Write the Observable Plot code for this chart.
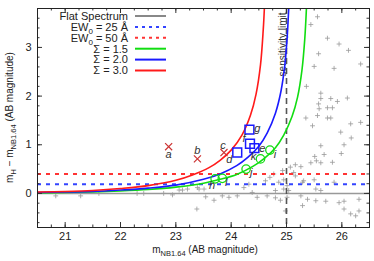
<!DOCTYPE html>
<html>
<head>
<meta charset="utf-8">
<script src="https://cdn.jsdelivr.net/npm/d3@7"></script>
<script src="https://cdn.jsdelivr.net/npm/@observablehq/plot@0.6"></script>
<style>
  html, body { margin: 0; padding: 0; background: #fff; }
  #chart { width: 374px; height: 261px; }
</style>
</head>
<body>
<div id="chart"></div>
<script>
// ---------- data ----------
const xTicks = [21, 22, 23, 24, 25, 26];
const yTicks = [0, 1, 2, 3];
const xDomain = [20.5, 26.5];
const yDomain = [-0.7, 3.8];

const flatLevel = 0;
const ewLabels = ["EW0 = 25 Å", "EW0 = 50 Å"];
const ewLevels = [0.19, 0.40];
const sensitivityLimit = 25.0;
const sensitivityText = "sensitivity limit";

const sigmaLabels = ["Σ = 1.5", "Σ = 2.0", "Σ = 3.0"];
const sigma15 = [[20.5,0.01],[21,0.02],[21.5,0.03],[22,0.05],[22.5,0.08],[23,0.13],[23.5,0.21],[23.8,0.29],[24.1,0.39],[24.4,0.56],[24.6,0.72],[24.8,0.94],[24.95,1.20],[25.1,1.58],[25.2,1.98],[25.28,2.54],[25.33,3.17],[25.36,3.8]];
const sigma20 = [[20.5,0.02],[21,0.03],[21.5,0.04],[22,0.07],[22.5,0.11],[23,0.17],[23.5,0.29],[23.8,0.40],[24.1,0.57],[24.3,0.74],[24.5,0.97],[24.65,1.24],[24.8,1.65],[24.9,2.10],[24.97,2.64],[25.01,3.17],[25.04,3.8]];
const sigma30 = [[20.5,0.03],[21,0.04],[21.5,0.06],[22,0.10],[22.5,0.16],[23,0.27],[23.3,0.38],[23.6,0.53],[23.8,0.68],[24.0,0.89],[24.2,1.21],[24.35,1.61],[24.45,2.04],[24.53,2.64],[24.58,3.37],[24.60,3.8]];

// labelled objects
const crossNames = ["a", "b", "c"];
const crossX = [22.87, 23.39, 23.87];
const crossY = [0.96, 0.71, 0.84];
const squareNames = ["d", "e", "f", "g"];
const squareX = [24.11, 24.42, 24.34, 24.33];
const squareY = [0.84, 0.93, 1.02, 1.31];
const circleNames = ["h", "i", "j", "k", "l"];
const circleX = [23.71, 24.70, 24.27, 24.53, 23.84];
const circleY = [0.30, 0.89, 0.50, 0.71, 0.31];

// field sources (grey crosses)
const field = [
  [25.56,3.63],[25.44,3.47],[25.74,3.19],[25.95,3.07],[26.12,2.94],[25.58,2.87],[26.34,2.66],[25.50,2.61],[25.86,2.57],[25.36,2.20],
  [25.62,2.06],[25.62,1.95],[25.80,1.95],[25.92,1.89],[26.10,1.96],[25.58,1.84],[25.59,1.74],[25.74,1.76],[25.83,1.76],[25.56,1.60],
  [25.74,1.55],[25.80,1.55],[25.35,1.55],[26.16,1.43],[26.34,1.46],[25.47,1.39],
  [25.98,1.26],[26.17,1.14],[25.62,0.98],[26.04,1.00],[25.68,0.80],[25.51,0.76],[25.54,0.67],[25.44,0.63],[25.62,0.63],[25.83,0.64],
  [25.99,0.82],[25.07,0.54],[25.16,0.59],[25.26,0.55],[25.31,0.26],[25.29,0.23],[25.50,0.28],[25.86,0.23],[25.01,0.16],[24.95,0.09],
  [25.04,0.06],[25.26,-0.05],[25.38,-0.12],[25.53,-0.15],[25.71,-0.16],[25.95,-0.19],[26.04,-0.16],[26.31,-0.12],[26.04,-0.32],[26.16,-0.42],
  [26.31,-0.36],[26.25,-0.46],[25.29,-0.25],[24.98,-0.36],[25.01,-0.08],[25.53,0.09],[25.62,0.06],[25.16,0.36],[25.13,0.43],
  [24.93,0.47],[24.77,0.40],[24.70,0.33],[24.62,0.26],[24.86,0.23],[24.95,0.28],[24.32,0.19],[24.23,0.12],[24.38,0.02],[24.11,-0.05],
  [23.96,-0.08],[23.84,-0.05],[23.69,-0.14],[23.54,-0.07],[23.38,-0.32],[24.47,-0.08],[24.65,-0.05],[24.80,-0.09],[24.89,-0.14],[24.80,0.06],
  [20.83,-0.05],[21.28,-0.05],[21.61,0.00],[22.30,0.00],[22.42,0.00],[22.78,0.00],[22.94,-0.03],[23.06,0.07],[23.12,0.07],[23.21,0.09],
  [23.39,0.12],[23.42,0.09],[23.51,0.09]
];

// ---------- layout / style ----------
const W = 374, H = 261;
const mL = 37, mR = 5, mT = 8, mB = 34;
const innerW = W - mL - mR, innerH = H - mT - mB;
const RED = "#ff1a1a", BLUE = "#1a1aff", GREEN = "#11dd11";
const FONT = "'Liberation Sans', Arial, Helvetica, sans-serif";

const xMinor = d3.range(20.5, 26.501, 0.25);
const yMinor = d3.range(-0.6, 3.801, 0.2);

const crosses = crossNames.map((n, i) => ({n, x: crossX[i], y: crossY[i]}));
const squares = squareNames.map((n, i) => ({n, x: squareX[i], y: squareY[i]}));
const circles = circleNames.map((n, i) => ({n, x: circleX[i], y: circleY[i]}));

// label offsets (px) relative to each marker
const labelOffset = {
  a: [0, 8], b: [0, -8], c: [-1, -7],
  d: [-8, 7], e: [8, 0], f: [-6, -5], g: [8, -1],
  h: [-3, 7], i: [5, 4], j: [5, 3], k: [-7, -2], l: [4, 4]
};

const labelMarks = [...crosses, ...squares, ...circles].map(d =>
  Plot.text([d], {x: "x", y: "y", text: "n", dx: labelOffset[d.n][0], dy: labelOffset[d.n][1],
    fontStyle: "italic", fontSize: 11, fill: "#333"}));

const tick = (len) => [
  Plot.tickX(xMinor, {x: d => d, insetTop: innerH - len / 2, stroke: "#333"}),
  Plot.tickX(xMinor, {x: d => d, insetBottom: innerH - len / 2, stroke: "#333"}),
  Plot.tickY(yMinor, {y: d => d, insetRight: innerW - len / 2, stroke: "#333"}),
  Plot.tickY(yMinor, {y: d => d, insetLeft: innerW - len / 2, stroke: "#333"}),
  Plot.tickX(xTicks, {x: d => d, insetTop: innerH - len, stroke: "#333"}),
  Plot.tickX(xTicks, {x: d => d, insetBottom: innerH - len, stroke: "#333"}),
  Plot.tickY(yTicks, {y: d => d, insetRight: innerW - len, stroke: "#333"}),
  Plot.tickY(yTicks, {y: d => d, insetLeft: innerW - len, stroke: "#333"})
];

const plot = Plot.plot({
  width: W, height: H,
  marginLeft: mL, marginRight: mR, marginTop: mT, marginBottom: mB,
  style: {fontFamily: FONT, fontSize: "11px", background: "#fff"},
  x: {domain: xDomain},
  y: {domain: yDomain},
  marks: [
    Plot.dot(field, {x: d => d[0], y: d => d[1], symbol: "plus", r: 1.7, stroke: "#999", strokeWidth: 0.8}),
    Plot.ruleY([flatLevel], {stroke: "#999", strokeWidth: 1.5}),
    Plot.ruleY([ewLevels[0]], {stroke: "#3344ff", strokeWidth: 2, strokeDasharray: "4,5"}),
    Plot.ruleY([ewLevels[1]], {stroke: "#ff3333", strokeWidth: 2, strokeDasharray: "4,5"}),
    Plot.ruleX([sensitivityLimit], {stroke: "#555", strokeWidth: 1.6, strokeDasharray: "6,4"}),
    Plot.text([sensitivityText], {x: () => sensitivityLimit, text: d => d, frameAnchor: "top", rotate: -90,
      textAnchor: "end", dx: -8, dy: 4, fontSize: 10, fill: "#333"}),
    Plot.line(sigma15, {x: d => d[0], y: d => d[1], stroke: GREEN, strokeWidth: 1.6, curve: "catmull-rom", clip: true}),
    Plot.line(sigma20, {x: d => d[0], y: d => d[1], stroke: BLUE, strokeWidth: 1.6, curve: "catmull-rom", clip: true}),
    Plot.line(sigma30, {x: d => d[0], y: d => d[1], stroke: RED, strokeWidth: 1.6, curve: "catmull-rom", clip: true}),
    Plot.dot(crosses, {x: "x", y: "y", symbol: "times", r: 3.3, stroke: "#cc3333", strokeWidth: 1.2}),
    Plot.dot(squares, {x: "x", y: "y", symbol: "square", r: 5, stroke: BLUE, strokeWidth: 1.5}),
    Plot.dot(circles, {x: "x", y: "y", symbol: "circle", r: 4.2, stroke: GREEN, strokeWidth: 1.3}),
    ...labelMarks,
    ...tick(5),
    Plot.frame({stroke: "#222"}),
    Plot.axisX(xTicks, {tickSize: 0, tickPadding: 5, label: null, fontSize: 11, fill: "#222"}),
    Plot.axisY(yTicks, {tickSize: 0, tickPadding: 6, label: null, fontSize: 11, fill: "#222"})
  ]
});

document.getElementById("chart").appendChild(plot);

// ---------- legend & axis titles ----------
const svg = d3.select(plot);
const legendItems = [
  {parts: [["Flat Spectrum"]], stroke: "#555", dash: null, width: 1.4},
  {parts: [["EW"], ["0", "sub"], [ewLabels[0].slice(3)]], stroke: "#3344ff", dash: "3,4", width: 2},
  {parts: [["EW"], ["0", "sub"], [ewLabels[1].slice(3)]], stroke: "#ff3333", dash: "3,4", width: 2},
  {parts: [[sigmaLabels[0]]], stroke: GREEN, dash: null, width: 2},
  {parts: [[sigmaLabels[1]]], stroke: BLUE, dash: null, width: 2},
  {parts: [[sigmaLabels[2]]], stroke: RED, dash: null, width: 2}
];
const lg = svg.append("g").attr("font-family", FONT).attr("font-size", 11).attr("fill", "#222");
legendItems.forEach((it, i) => {
  const yc = 16 + i * 10.9;
  const t = lg.append("text").attr("x", 128).attr("y", yc).attr("dy", "0.35em").attr("text-anchor", "end");
  it.parts.forEach(([s, k]) => {
    const ts = t.append("tspan").text(s);
    if (k === "sub") ts.attr("font-size", 8).attr("dy", "3");
    else if (t.selectAll("tspan").size() > 1) ts.attr("dy", "-3");
  });
  lg.append("line").attr("x1", 135).attr("x2", 166).attr("y1", yc).attr("y2", yc)
    .attr("stroke", it.stroke).attr("stroke-width", it.width).attr("stroke-dasharray", it.dash);
});

function title(g, pieces) {
  const t = g.append("text").attr("text-anchor", "middle").attr("font-family", FONT).attr("font-size", 10).attr("fill", "#222");
  let shifted = false;
  pieces.forEach(([s, k]) => {
    const ts = t.append("tspan").text(s);
    if (k === "sub") { ts.attr("font-size", 7.5).attr("dy", shifted ? 0 : 3); shifted = true; }
    else if (shifted) { ts.attr("dy", -3); shifted = false; }
  });
  return t;
}
title(svg.append("g").attr("transform", `translate(${mL + innerW / 2 + 2},253)`),
  [["m"], ["NB1.64", "sub"], [" (AB magnitude)"]]);
title(svg.append("g").attr("transform", `translate(13,${mT + innerH / 2}) rotate(-90)`),
  [["m"], ["H", "sub"], [" − m"], ["NB1.64", "sub"], [" (AB magnitude)"]]);
</script>
</body>
</html>
